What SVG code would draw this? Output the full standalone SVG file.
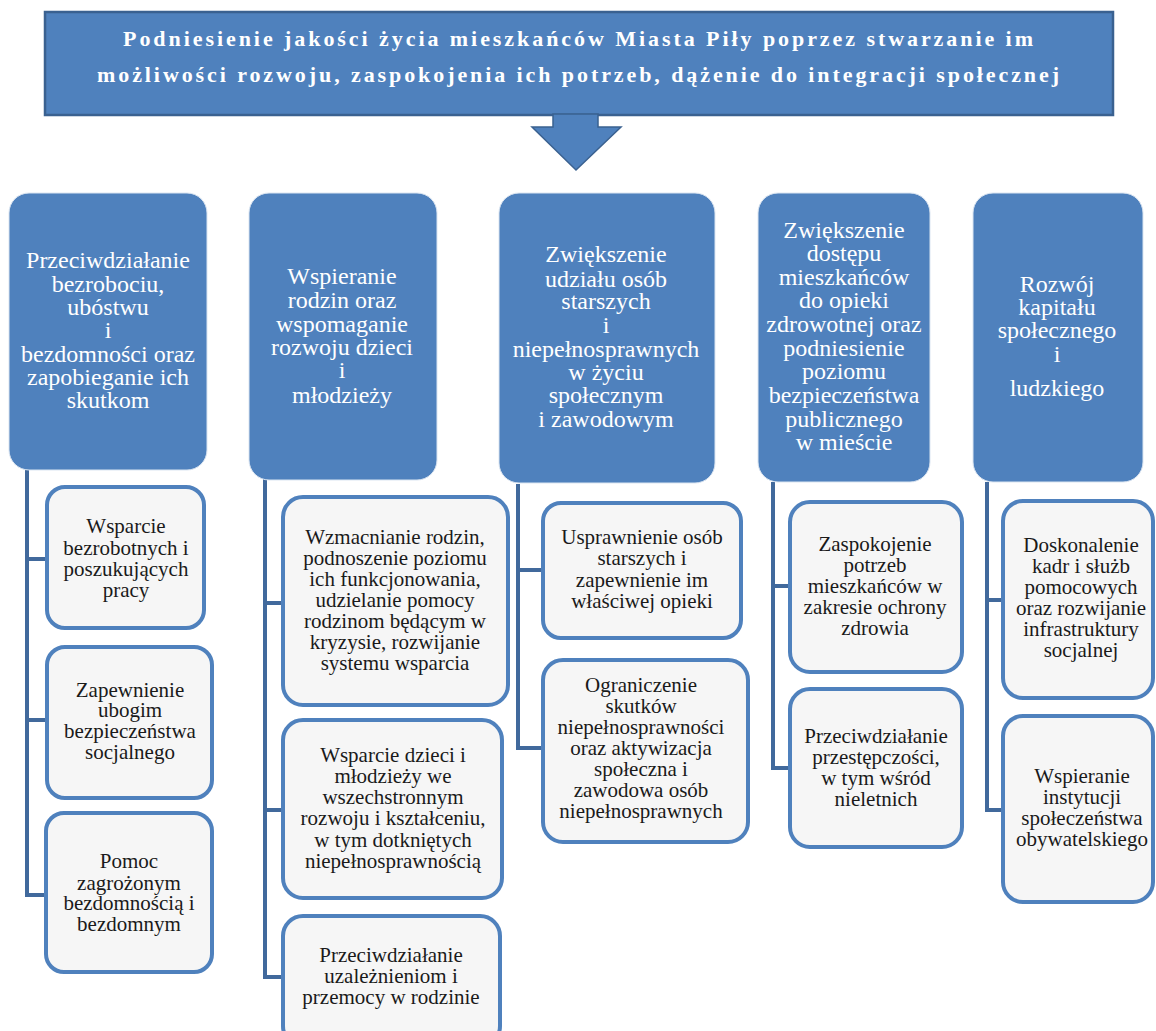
<svg xmlns="http://www.w3.org/2000/svg" width="1156" height="1031" viewBox="0 0 1156 1031">
<style>
.hdr{fill:#4f81bd;stroke:#3a6190;stroke-width:2.5}
.top{fill:#4f81bd;stroke:#dbe5f1;stroke-width:1}
.sub{fill:#f6f6f6;stroke:#4f81bd;stroke-width:4}
.ht{font-family:"Liberation Serif",serif;font-weight:bold;font-size:22px;fill:#ffffff;text-anchor:middle}
.tt{font-family:"Liberation Serif",serif;font-size:24px;fill:#ffffff;text-anchor:middle}
.st{font-family:"Liberation Serif",serif;font-size:21px;fill:#1a1a1a;text-anchor:middle}
.con{fill:none;stroke:#41699c;stroke-width:4}
</style>
<rect width="1156" height="1031" fill="#ffffff"/>

<g id="header">
<rect class="hdr" x="45" y="12" width="1068" height="103"/>
<text class="ht" x="578" y="46" textLength="910" lengthAdjust="spacing">Podniesienie jakości życia mieszkańców Miasta Piły poprzez stwarzanie im</text>
<text class="ht" x="578" y="82" textLength="962" lengthAdjust="spacing">możliwości rozwoju, zaspokojenia ich potrzeb, dążenie do integracji społecznej</text>
</g>
<g id="arrow">
<path d="M553,114 L598,114 L598,127 L621,127 L576,170 L532,127 L553,127 Z" fill="#4f81bd" stroke="#3a6190" stroke-width="1.5"/>
</g>

<g id="connectors">
<path class="con" d="M27,470 V895 H47 M27,559 H47 M27,720 H47"/>
<path class="con" d="M265,478 V977 H283 M265,603 H283 M265,810 H283"/>
<path class="con" d="M518,484 V748 H543 M518,570 H543"/>
<path class="con" d="M773,482 V768 H790 M773,586 H790"/>
<path class="con" d="M987,482 V810 H1003 M987,600 H1003"/>
</g>

<g id="n1">
<rect class="top" x="9" y="193" width="198" height="277" rx="20"/>
<text class="tt"><tspan x="108" y="268">Przeciwdziałanie</tspan><tspan x="108" y="292">bezrobociu,</tspan><tspan x="108" y="315">ubóstwu</tspan><tspan x="108" y="338">i</tspan><tspan x="108" y="362">bezdomności oraz</tspan><tspan x="108" y="385">zapobieganie ich</tspan><tspan x="108" y="408">skutkom</tspan></text>
</g>
<g id="n2">
<rect class="top" x="249" y="193" width="188" height="287" rx="20"/>
<text class="tt"><tspan x="342" y="284">Wspieranie</tspan><tspan x="342" y="308">rodzin oraz</tspan><tspan x="342" y="332">wspomaganie</tspan><tspan x="342" y="355">rozwoju dzieci</tspan><tspan x="342" y="378">i</tspan><tspan x="342" y="403">młodzieży</tspan></text>
</g>
<g id="n3">
<rect class="top" x="499" y="193" width="216" height="290" rx="20"/>
<text class="tt"><tspan x="606" y="262">Zwiększenie</tspan><tspan x="606" y="287">udziału osób</tspan><tspan x="606" y="309">starszych</tspan><tspan x="606" y="333">i</tspan><tspan x="606" y="357">niepełnosprawnych</tspan><tspan x="606" y="380">w życiu</tspan><tspan x="606" y="403">społecznym</tspan><tspan x="606" y="427">i zawodowym</tspan></text>
</g>
<g id="n4">
<rect class="top" x="758" y="193" width="172" height="289" rx="20"/>
<text class="tt"><tspan x="844" y="238">Zwiększenie</tspan><tspan x="844" y="261">dostępu</tspan><tspan x="844" y="285">mieszkańców</tspan><tspan x="844" y="308">do opieki</tspan><tspan x="844" y="332">zdrowotnej oraz</tspan><tspan x="844" y="356">podniesienie</tspan><tspan x="844" y="379">poziomu</tspan><tspan x="844" y="403">bezpieczeństwa</tspan><tspan x="844" y="427">publicznego</tspan><tspan x="844" y="450">w mieście</tspan></text>
</g>
<g id="n5">
<rect class="top" x="973" y="193" width="170" height="289" rx="20"/>
<text class="tt"><tspan x="1057" y="292">Rozwój</tspan><tspan x="1057" y="315">kapitału</tspan><tspan x="1057" y="338">społecznego</tspan><tspan x="1057" y="362">i</tspan><tspan x="1057" y="396">ludzkiego</tspan></text>
</g>

<g id="n1a">
<rect class="sub" x="47" y="487" width="157" height="141" rx="18"/>
<text class="st"><tspan x="126" y="533">Wsparcie</tspan><tspan x="126" y="555">bezrobotnych i</tspan><tspan x="126" y="576">poszukujących</tspan><tspan x="126" y="597">pracy</tspan></text>
</g>
<g id="n1b">
<rect class="sub" x="47" y="647" width="165" height="151" rx="18"/>
<text class="st"><tspan x="130" y="697">Zapewnienie</tspan><tspan x="130" y="717">ubogim</tspan><tspan x="130" y="738">bezpieczeństwa</tspan><tspan x="130" y="759">socjalnego</tspan></text>
</g>
<g id="n1c">
<rect class="sub" x="46" y="813" width="166" height="159" rx="18"/>
<text class="st"><tspan x="129" y="868">Pomoc</tspan><tspan x="129" y="890">zagrożonym</tspan><tspan x="129" y="910">bezdomnością i</tspan><tspan x="129" y="931">bezdomnym</tspan></text>
</g>

<g id="n2a">
<rect class="sub" x="283" y="497" width="225" height="208" rx="20"/>
<text class="st"><tspan x="395" y="544">Wzmacnianie rodzin,</tspan><tspan x="395" y="565">podnoszenie poziomu</tspan><tspan x="395" y="586">ich funkcjonowania,</tspan><tspan x="395" y="607">udzielanie pomocy</tspan><tspan x="395" y="628">rodzinom będącym w</tspan><tspan x="395" y="649">kryzysie, rozwijanie</tspan><tspan x="395" y="670">systemu wsparcia</tspan></text>
</g>
<g id="n2b">
<rect class="sub" x="283" y="720" width="219" height="178" rx="20"/>
<text class="st"><tspan x="393" y="762">Wsparcie dzieci i</tspan><tspan x="393" y="783">młodzieży we</tspan><tspan x="393" y="804">wszechstronnym</tspan><tspan x="393" y="825">rozwoju i kształceniu,</tspan><tspan x="393" y="847">w tym dotkniętych</tspan><tspan x="393" y="868">niepełnosprawnością</tspan></text>
</g>
<g id="n2c">
<rect class="sub" x="283" y="916" width="217" height="130" rx="20"/>
<text class="st"><tspan x="391" y="962">Przeciwdziałanie</tspan><tspan x="391" y="983">uzależnieniom i</tspan><tspan x="391" y="1004">przemocy w rodzinie</tspan></text>
</g>

<g id="n3a">
<rect class="sub" x="543" y="503" width="198" height="135" rx="18"/>
<text class="st"><tspan x="642" y="544">Usprawnienie osób</tspan><tspan x="642" y="565">starszych i</tspan><tspan x="642" y="587">zapewnienie im</tspan><tspan x="642" y="608">właściwej opieki</tspan></text>
</g>
<g id="n3b">
<rect class="sub" x="543" y="660" width="205" height="182" rx="20"/>
<text class="st"><tspan x="641" y="692">Ograniczenie</tspan><tspan x="641" y="713">skutków</tspan><tspan x="641" y="734">niepełnosprawności</tspan><tspan x="641" y="755">oraz aktywizacja</tspan><tspan x="641" y="776">społeczna i</tspan><tspan x="641" y="797">zawodowa osób</tspan><tspan x="641" y="818">niepełnosprawnych</tspan></text>
</g>

<g id="n4a">
<rect class="sub" x="790" y="502" width="172" height="170" rx="20"/>
<text class="st"><tspan x="875" y="551">Zaspokojenie</tspan><tspan x="875" y="572">potrzeb</tspan><tspan x="875" y="593">mieszkańców w</tspan><tspan x="875" y="614">zakresie ochrony</tspan><tspan x="875" y="635">zdrowia</tspan></text>
</g>
<g id="n4b">
<rect class="sub" x="790" y="689" width="172" height="158" rx="20"/>
<text class="st"><tspan x="876" y="743">Przeciwdziałanie</tspan><tspan x="876" y="764">przestępczości,</tspan><tspan x="876" y="785">w tym wśród</tspan><tspan x="876" y="806">nieletnich</tspan></text>
</g>

<g id="n5a">
<rect class="sub" x="1003" y="501" width="150" height="197" rx="20"/>
<text class="st"><tspan x="1081" y="552">Doskonalenie</tspan><tspan x="1081" y="573">kadr i służb</tspan><tspan x="1081" y="594">pomocowych</tspan><tspan x="1081" y="615">oraz rozwijanie</tspan><tspan x="1081" y="636">infrastruktury</tspan><tspan x="1081" y="657">socjalnej</tspan></text>
</g>
<g id="n5b">
<rect class="sub" x="1003" y="716" width="150" height="186" rx="20"/>
<text class="st"><tspan x="1082" y="783">Wspieranie</tspan><tspan x="1082" y="804">instytucji</tspan><tspan x="1082" y="825">społeczeństwa</tspan><tspan x="1082" y="846">obywatelskiego</tspan></text>
</g>
</svg>
